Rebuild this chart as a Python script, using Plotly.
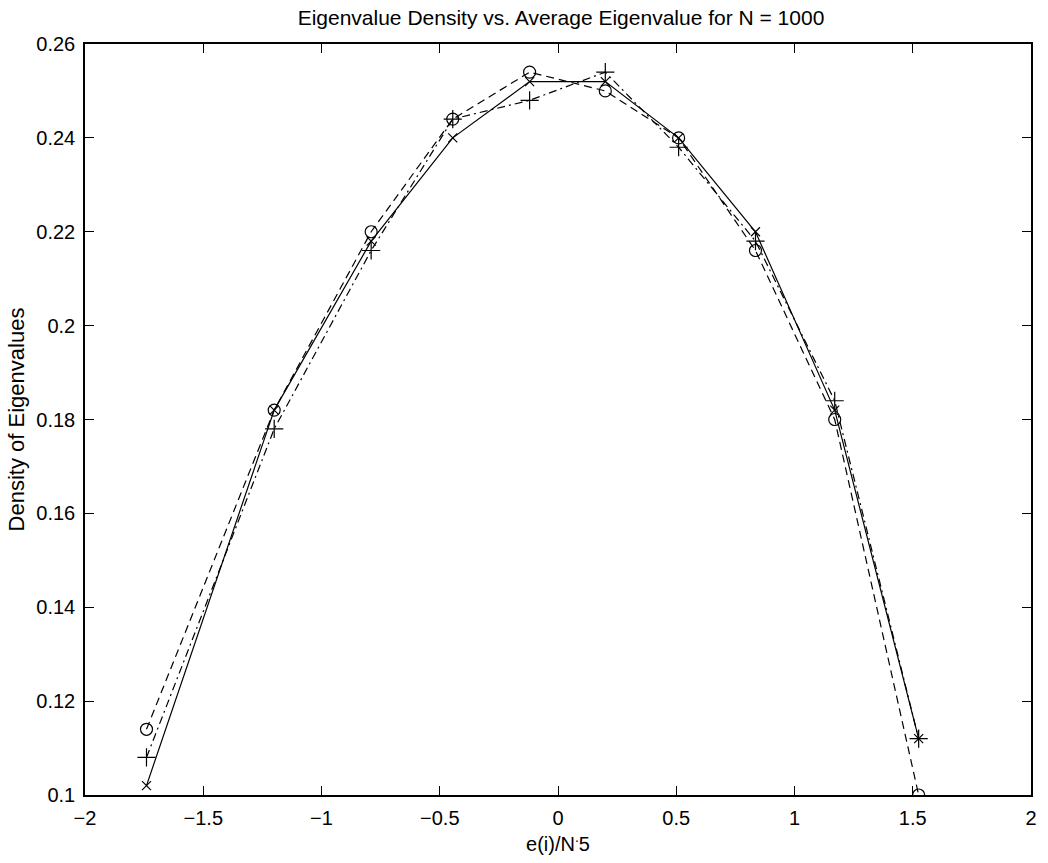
import plotly.graph_objects as go

x_vals = [-1.74, -1.20, -0.79, -0.445, -0.12, 0.20, 0.51, 0.835, 1.17, 1.525]
solid_x = [0.102, 0.182, 0.218, 0.240, 0.252, 0.252, 0.240, 0.220, 0.182, 0.112]
dashed_o = [0.114, 0.182, 0.220, 0.244, 0.254, 0.250, 0.240, 0.216, 0.180, 0.100]
dashdot_plus = [0.108, 0.178, 0.216, 0.244, 0.248, 0.254, 0.238, 0.218, 0.184, 0.112]

x_ticks = [-2, -1.5, -1, -0.5, 0, 0.5, 1, 1.5, 2]
x_ticktext = ["\u22122", "\u22121.5", "\u22121", "\u22120.5", "0", "0.5", "1", "1.5", "2"]
y_ticks = [0.10, 0.12, 0.14, 0.16, 0.18, 0.20, 0.22, 0.24, 0.26]
y_ticktext = ["0.1", "0.12", "0.14", "0.16", "0.18", "0.2", "0.22", "0.24", "0.26"]

FONT = "Liberation Sans, Arial, Helvetica, sans-serif"

W, H = 1048, 863

fig = go.Figure()
fig.add_trace(go.Scatter(
    x=x_vals, y=solid_x, mode="lines+markers",
    line=dict(color="black", width=1.2, dash="solid"),
    marker=dict(symbol="x-thin-open", size=9, line=dict(color="black", width=1.2)),
    showlegend=False))
fig.add_trace(go.Scatter(
    x=x_vals, y=dashed_o, mode="lines+markers",
    line=dict(color="black", width=1.2, dash="8px,5px"),
    marker=dict(symbol="circle-open", size=12, color="black", line=dict(color="black", width=1.2)),
    showlegend=False))
fig.add_trace(go.Scatter(
    x=x_vals, y=dashdot_plus, mode="lines+markers",
    line=dict(color="black", width=1.2, dash="8px,4px,2px,4px"),
    marker=dict(symbol="cross-thin-open", size=13, line=dict(color="black", width=1.2)),
    showlegend=False))

fig.update_layout(
    width=W, height=H,
    paper_bgcolor="white", plot_bgcolor="white",
    margin=dict(l=85, r=11, t=44, b=68),
    font=dict(family=FONT, size=20, color="black"),
    title=dict(text="Eigenvalue Density vs. Average Eigenvalue for N = 1000",
               x=561 / W, xanchor="center", xref="container",
               y=1 - 18 / H, yanchor="middle", yref="container",
               font=dict(family=FONT, size=21, color="black")),
)
fig.update_xaxes(
    range=[-2, 2], tickvals=x_ticks, ticktext=x_ticktext,
    ticks="inside", ticklen=9, tickwidth=1, tickcolor="black",
    showline=True, linecolor="black", linewidth=1.5, mirror="ticks",
    showgrid=False, zeroline=False, ticklabelstandoff=4,
    title=dict(text="e(i)/N<sup>.</sup>5", standoff=9, font=dict(family=FONT, size=20)),
    tickfont=dict(family=FONT, size=20),
)
fig.update_yaxes(
    range=[0.1, 0.26], tickvals=y_ticks, ticktext=y_ticktext,
    ticks="inside", ticklen=9, tickwidth=1, tickcolor="black",
    showline=True, linecolor="black", linewidth=1.5, mirror="ticks",
    showgrid=False, zeroline=False, ticklabelstandoff=4,
    title=dict(text="Density of Eigenvalues", standoff=6, font=dict(family=FONT, size=22)),
    tickfont=dict(family=FONT, size=20),
)

# remove the browser's default 8px body margin so the figure fills the window exactly
fig.write_html("out.html", config={"displayModeBar": False},
               post_script="document.body.style.margin='0';")
